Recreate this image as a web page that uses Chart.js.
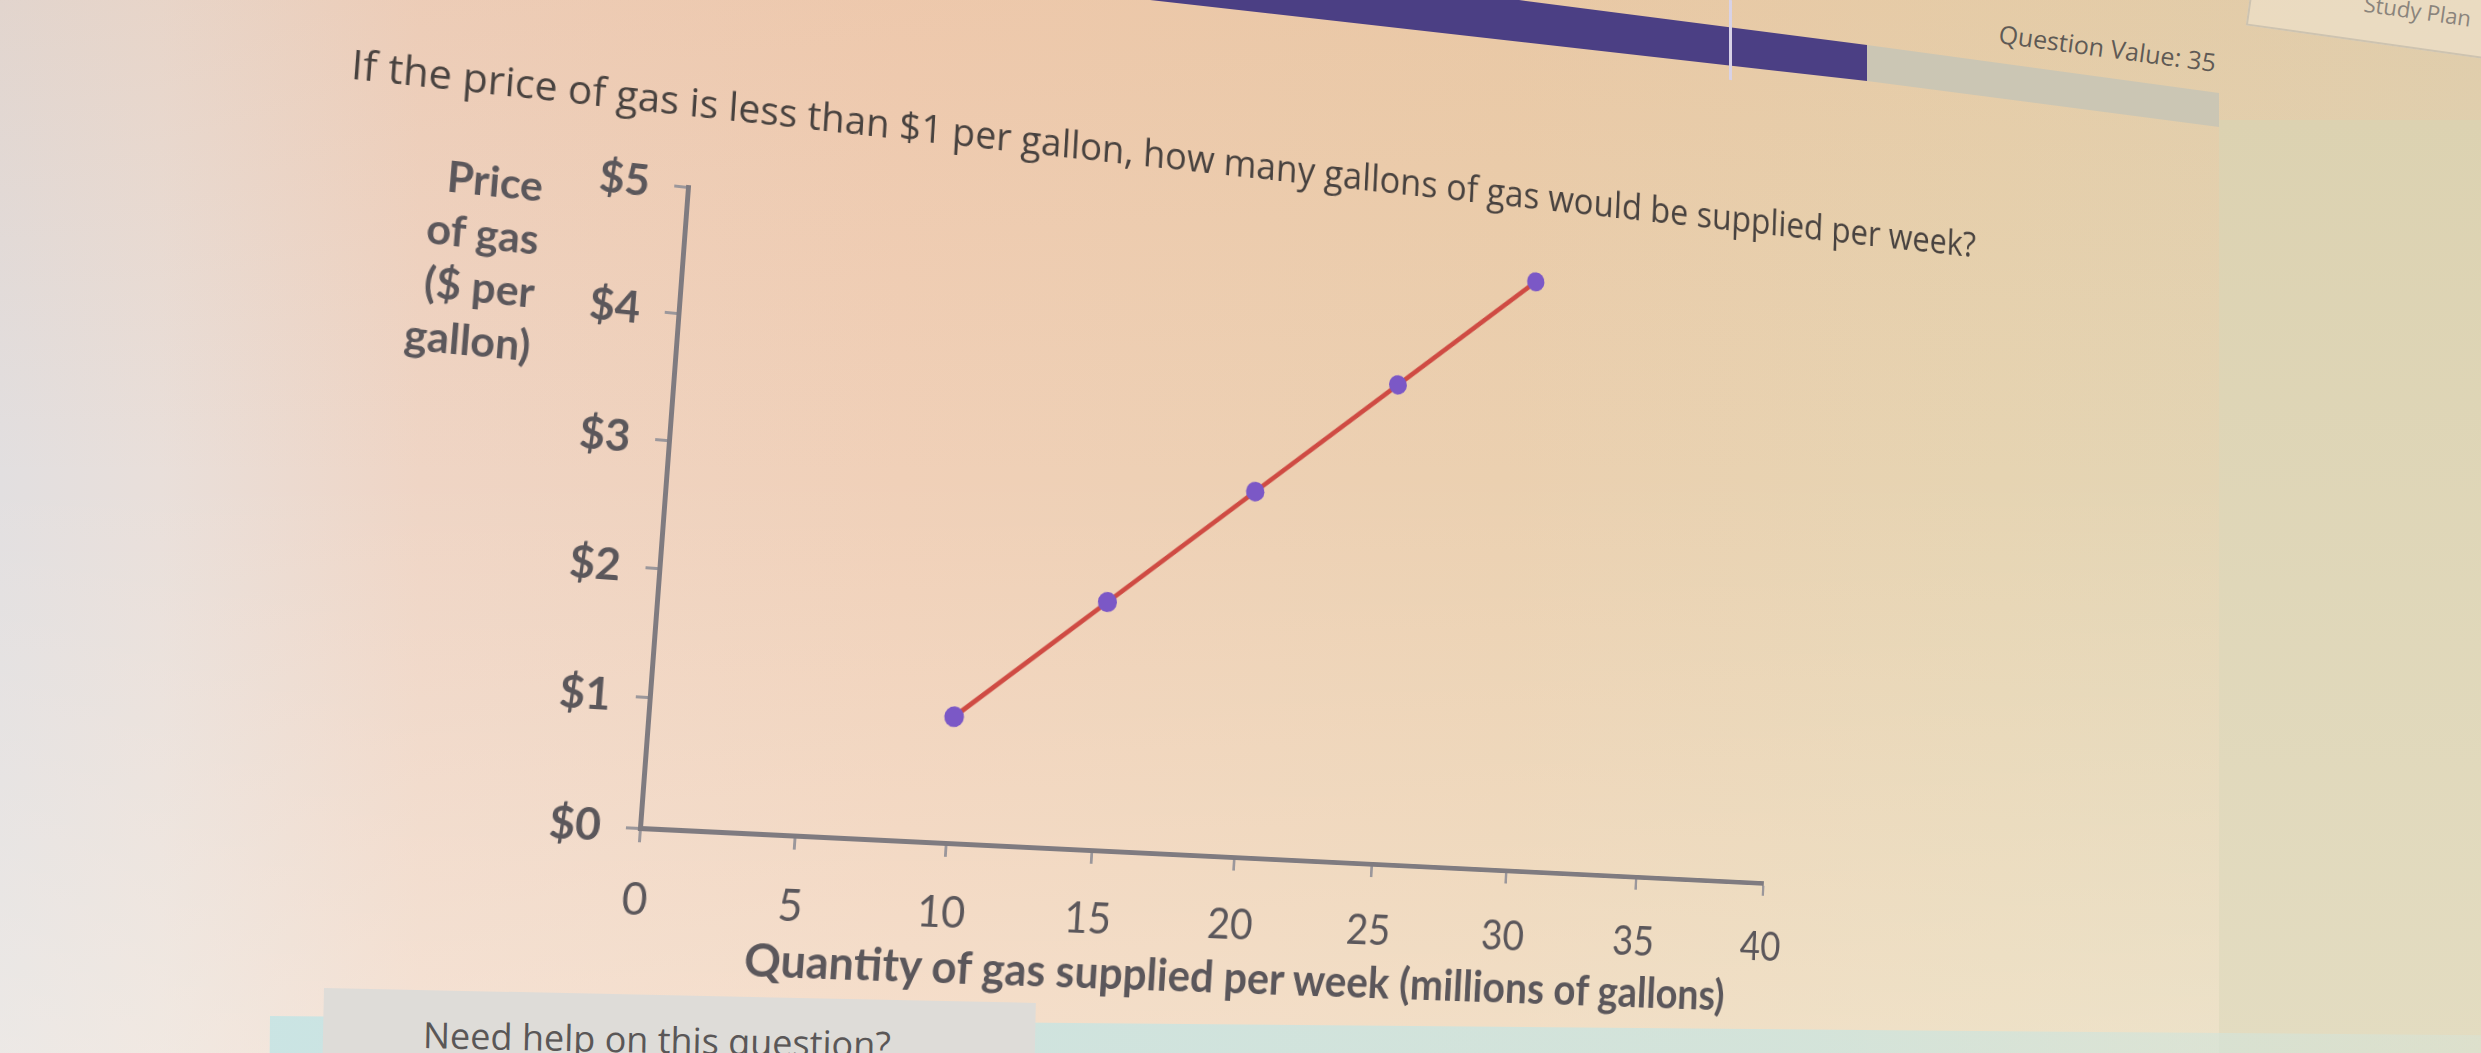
<!DOCTYPE html>
<html>
<head>
<meta charset="utf-8">
<script src="https://cdn.jsdelivr.net/npm/chart.js@4.4.1/dist/chart.umd.min.js"></script>
<style>
  html, body { margin: 0; width: 2481px; height: 1053px; overflow: hidden; }
  body {
    position: relative;
    background:
      linear-gradient(180deg, rgba(225,160,110,0.16) 0%, rgba(255,240,225,0) 45%, rgba(255,250,240,0.35) 100%),
      linear-gradient(90deg, #e2dfe0 0px, #e9dfda 160px, #efd5c5 420px, #f0d0b8 900px, #ebd0b0 1500px, #e6d4b2 2000px, #e0d5b6 2481px);
  }
  .deco { position: absolute; }
  #screen { position: absolute; left: 0; top: 0; width: 2481px; height: 1053px; transform-origin: 0 0; }
  #chart { position: absolute; left: 0; top: 0; }
  #question { position: absolute; left: 300px; white-space: nowrap; font-family: "Open Sans", sans-serif; color: #48423f; line-height: 1.2; transform-origin: left center; }
  #ytitle { position: absolute; font-family: Lato, sans-serif; font-weight: bold; font-size: 42px; line-height: 53px; color: #5b575b; text-align: right; }
  #xtitle { position: absolute; white-space: nowrap; font-family: Lato, sans-serif; font-weight: bold; color: #5b575b; line-height: 1.2; }
</style>
</head>
<body>
<!-- screen-space bits of the photographed page -->
<div class="deco" id="rightStrip" style="left:2219px;top:120px;width:262px;height:933px;background:linear-gradient(180deg,#dcd2b1,#e3dcc1);"></div>
<div class="deco" id="bar" style="left:0;top:0;width:2481px;height:200px;background:#4b3f84;clip-path:polygon(1150px 0,1519px 0,1867px 45px,1867px 81px);"></div>
<div class="deco" style="left:1729px;top:0;width:3px;height:80px;background:#d8d2e6;transform:skewY(7deg);"></div>
<div class="deco" id="band" style="left:0;top:0;width:2481px;height:200px;background:#cbc6b4;clip-path:polygon(1867px 45px,2219px 93px,2219px 127px,1867px 81px);"></div>
<div class="deco" style="left:1999px;top:16px;font-family:'Open Sans',sans-serif;font-size:25px;color:#5f5a55;white-space:nowrap;transform:rotate(7.6deg);transform-origin:left center;">Question Value: 35</div>
<div class="deco" style="left:2255px;top:-40px;width:300px;height:62px;border:2px solid #cdc3b0;background:rgba(240,228,208,0.6);transform:rotate(8deg);transform-origin:left top;">
  <div style="position:absolute;left:112px;top:10px;font-family:'Open Sans',sans-serif;font-size:22px;color:#8a847c;white-space:nowrap;">Study Plan</div>
</div>
<div class="deco" style="left:270px;top:1016px;width:2211px;height:60px;background:linear-gradient(90deg,rgba(198,228,228,0.9),rgba(205,228,222,0.8) 70%,rgba(215,228,215,0.5));transform:rotate(0.5deg);transform-origin:left top;"></div>
<div class="deco" style="left:324px;top:988px;width:712px;height:100px;background:#dedcd8;transform:rotate(1.2deg);transform-origin:left top;">
  <div style="position:absolute;left:100px;top:26px;font-family:'Open Sans',sans-serif;font-size:36px;line-height:38px;color:#5a5757;white-space:nowrap;">Need help on this question?</div>
</div>

<!-- the flat page, tilted by a perspective transform like the photo -->
<div id="screen">
  <canvas id="chart" width="2481" height="1053"></canvas>
  <div id="question"></div>
  <div id="ytitle"></div>
  <div id="xtitle"></div>
</div>

<script>
// data
const quantity = [10, 15, 20, 25, 30];      // millions of gallons
const price = [1, 2, 3, 4, 5];              // $ per gallon
const xTickValues = [0, 5, 10, 15, 20, 25, 30, 35, 40];
const yTickValues = [0, 1, 2, 3, 4, 5];
const yTitleLines = ['Price', 'of gas', '($ per', 'gallon)'];
const xTitle = 'Quantity of gas supplied per week (millions of gallons)';
const questionText = 'If the price of gas is less than $1 per gallon, how many gallons of gas would be supplied per week?';

// layout of the flat page (px)
const plotLeft = 640, plotRight = 1900, plotTop = 187, plotBottom = 828;
const yAxisWidth = 140, xAxisHeight = 100;
// where the plot corners land in the photo
const cornerTargets = [[640, 828], [1763, 883], [688, 187], [1788, 310]];

const textColor = '#5b575b';

// fit a font size to a target width
const measure = document.createElement('canvas').getContext('2d');
function fitSize(text, font, width) {
  measure.font = font.replace('SIZE', '100px');
  return 100 * width / measure.measureText(text).width;
}

// question, axis titles (plain text)
const q = document.getElementById('question');
const qSize = fitSize(questionText, 'SIZE "Open Sans"', 1842);
q.textContent = questionText;
q.style.fontSize = qSize + 'px';
q.style.top = (103 - 0.6 * qSize) + 'px';
q.style.transform = 'rotate(-0.5deg)';

const yt = document.getElementById('ytitle');
yt.innerHTML = yTitleLines.join('<br>');
yt.style.right = (2481 - 495) + 'px';
yt.style.top = (202 - 26.5) + 'px';

const xt = document.getElementById('xtitle');
const xtSize = fitSize(xTitle, 'bold SIZE Lato', 1109);
xt.textContent = xTitle;
xt.style.fontSize = xtSize + 'px';
xt.style.left = (1309 - 1109 / 2) + 'px';
xt.style.top = (952 - 0.6 * xtSize) + 'px';

const chart = new Chart(document.getElementById('chart'), {
  type: 'line',
  data: {
    datasets: [{
      data: quantity.map((v, i) => ({ x: v, y: price[i] })),
      borderColor: '#cf4b43',
      borderWidth: 5,
      pointRadius: 10.5,
      pointHoverRadius: 10.5,
      pointBackgroundColor: '#7b58c6',
      pointBorderWidth: 0,
      tension: 0,
      clip: false
    }]
  },
  options: {
    responsive: false,
    animation: false,
    events: [],
    layout: {
      padding: {
        left: plotLeft - yAxisWidth,
        right: 2481 - plotRight,
        top: plotTop,
        bottom: 1053 - plotBottom - xAxisHeight
      }
    },
    plugins: { legend: { display: false }, tooltip: { enabled: false } },
    scales: {
      x: {
        type: 'linear',
        min: 0,
        max: 40,
        afterBuildTicks: s => { s.ticks = xTickValues.map(v => ({ value: v })); },
        afterFit: s => { s.height = xAxisHeight; },
        grid: { drawOnChartArea: false, drawTicks: true, tickLength: 14, tickWidth: 3, tickColor: '#9b979b' },
        border: { display: true, color: '#7f7b80', width: 5 },
        ticks: { font: { family: 'Lato', size: 44 }, color: textColor, padding: 30, maxRotation: 0, autoSkip: false }
      },
      y: {
        min: 0,
        max: 5,
        afterBuildTicks: s => { s.ticks = yTickValues.map(v => ({ value: v })); },
        afterFit: s => { s.width = yAxisWidth; },
        grid: { drawOnChartArea: false, drawTicks: true, tickLength: 14, tickWidth: 3, tickColor: '#9b979b' },
        border: { display: true, color: '#7f7b80', width: 5 },
        ticks: {
          font: { family: 'Lato', size: 44, weight: 'bold' },
          color: textColor,
          padding: 25,
          callback: v => '$' + v
        }
      }
    }
  }
});

// perspective: map the flat plot corners onto the photo's corners
function solveHomography(src, dst) {
  const A = [], B = [];
  for (let i = 0; i < 4; i++) {
    const [x, y] = src[i], [X, Y] = dst[i];
    A.push([x, y, 1, 0, 0, 0, -X * x, -X * y]); B.push(X);
    A.push([0, 0, 0, x, y, 1, -Y * x, -Y * y]); B.push(Y);
  }
  const n = 8;
  for (let c = 0; c < n; c++) {
    let p = c;
    for (let r = c + 1; r < n; r++) if (Math.abs(A[r][c]) > Math.abs(A[p][c])) p = r;
    [A[c], A[p]] = [A[p], A[c]];
    [B[c], B[p]] = [B[p], B[c]];
    for (let r = 0; r < n; r++) {
      if (r === c) continue;
      const f = A[r][c] / A[c][c];
      for (let k = c; k < n; k++) A[r][k] -= f * A[c][k];
      B[r] -= f * B[c];
    }
  }
  return B.map((b, i) => b / A[i][i]);
}

const xs = chart.scales.x, ys = chart.scales.y;
const src = [
  [xs.getPixelForValue(0), ys.getPixelForValue(0)],
  [xs.getPixelForValue(40), ys.getPixelForValue(0)],
  [xs.getPixelForValue(0), ys.getPixelForValue(5)],
  [xs.getPixelForValue(40), ys.getPixelForValue(5)]
];
const h = solveHomography(src, cornerTargets);
document.getElementById('screen').style.transform =
  `matrix3d(${h[0]},${h[3]},0,${h[6]},${h[1]},${h[4]},0,${h[7]},0,0,1,0,${h[2]},${h[5]},0,1)`;
</script>
</body>
</html>
